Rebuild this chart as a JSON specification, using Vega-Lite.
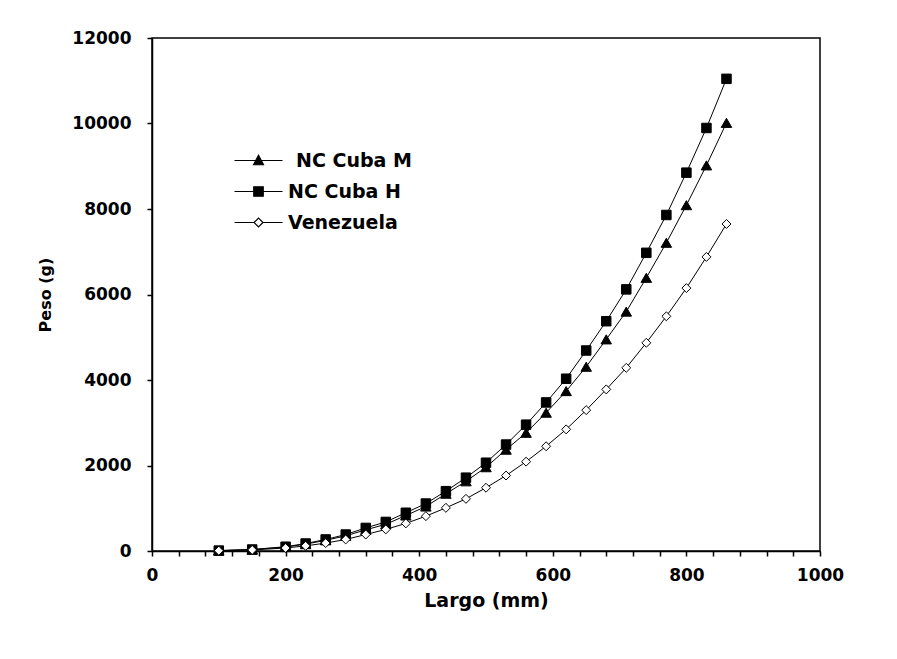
{
  "$schema": "https://vega.github.io/schema/vega-lite/v6.json",
  "width": 668,
  "height": 513,
  "autosize": {"type": "none"},
  "padding": {"left": 152, "top": 38, "right": 77, "bottom": 108},
  "background": "white",
  "config": {"view": {"stroke": "black", "strokeWidth": 1.5}, "font": "DejaVu Sans"},
  "data": {"values": [
    {"serie": "NC Cuba M", "largo": 100, "peso": 9},
    {"serie": "NC Cuba M", "largo": 150, "peso": 32},
    {"serie": "NC Cuba M", "largo": 200, "peso": 92},
    {"serie": "NC Cuba M", "largo": 230, "peso": 160},
    {"serie": "NC Cuba M", "largo": 260, "peso": 250},
    {"serie": "NC Cuba M", "largo": 290, "peso": 355},
    {"serie": "NC Cuba M", "largo": 320, "peso": 495},
    {"serie": "NC Cuba M", "largo": 350, "peso": 625},
    {"serie": "NC Cuba M", "largo": 380, "peso": 830},
    {"serie": "NC Cuba M", "largo": 410, "peso": 1040},
    {"serie": "NC Cuba M", "largo": 440, "peso": 1340},
    {"serie": "NC Cuba M", "largo": 470, "peso": 1630},
    {"serie": "NC Cuba M", "largo": 500, "peso": 1960},
    {"serie": "NC Cuba M", "largo": 530, "peso": 2370},
    {"serie": "NC Cuba M", "largo": 560, "peso": 2765},
    {"serie": "NC Cuba M", "largo": 590, "peso": 3235},
    {"serie": "NC Cuba M", "largo": 620, "peso": 3740},
    {"serie": "NC Cuba M", "largo": 650, "peso": 4310},
    {"serie": "NC Cuba M", "largo": 680, "peso": 4950},
    {"serie": "NC Cuba M", "largo": 710, "peso": 5600},
    {"serie": "NC Cuba M", "largo": 740, "peso": 6390},
    {"serie": "NC Cuba M", "largo": 770, "peso": 7210},
    {"serie": "NC Cuba M", "largo": 800, "peso": 8090},
    {"serie": "NC Cuba M", "largo": 830, "peso": 9020},
    {"serie": "NC Cuba M", "largo": 860, "peso": 10015},
    {"serie": "NC Cuba H", "largo": 100, "peso": 10},
    {"serie": "NC Cuba H", "largo": 150, "peso": 35},
    {"serie": "NC Cuba H", "largo": 200, "peso": 100},
    {"serie": "NC Cuba H", "largo": 230, "peso": 175},
    {"serie": "NC Cuba H", "largo": 260, "peso": 270},
    {"serie": "NC Cuba H", "largo": 290, "peso": 385},
    {"serie": "NC Cuba H", "largo": 320, "peso": 540},
    {"serie": "NC Cuba H", "largo": 350, "peso": 680},
    {"serie": "NC Cuba H", "largo": 380, "peso": 895},
    {"serie": "NC Cuba H", "largo": 410, "peso": 1110},
    {"serie": "NC Cuba H", "largo": 440, "peso": 1400},
    {"serie": "NC Cuba H", "largo": 470, "peso": 1715},
    {"serie": "NC Cuba H", "largo": 500, "peso": 2065},
    {"serie": "NC Cuba H", "largo": 530, "peso": 2490},
    {"serie": "NC Cuba H", "largo": 560, "peso": 2955},
    {"serie": "NC Cuba H", "largo": 590, "peso": 3475},
    {"serie": "NC Cuba H", "largo": 620, "peso": 4030},
    {"serie": "NC Cuba H", "largo": 650, "peso": 4690},
    {"serie": "NC Cuba H", "largo": 680, "peso": 5375},
    {"serie": "NC Cuba H", "largo": 710, "peso": 6120},
    {"serie": "NC Cuba H", "largo": 740, "peso": 6975},
    {"serie": "NC Cuba H", "largo": 770, "peso": 7860},
    {"serie": "NC Cuba H", "largo": 800, "peso": 8850},
    {"serie": "NC Cuba H", "largo": 830, "peso": 9895},
    {"serie": "NC Cuba H", "largo": 860, "peso": 11045},
    {"serie": "Venezuela", "largo": 100, "peso": 8},
    {"serie": "Venezuela", "largo": 150, "peso": 25},
    {"serie": "Venezuela", "largo": 200, "peso": 70},
    {"serie": "Venezuela", "largo": 230, "peso": 120},
    {"serie": "Venezuela", "largo": 260, "peso": 185},
    {"serie": "Venezuela", "largo": 290, "peso": 270},
    {"serie": "Venezuela", "largo": 320, "peso": 385},
    {"serie": "Venezuela", "largo": 350, "peso": 505},
    {"serie": "Venezuela", "largo": 380, "peso": 645},
    {"serie": "Venezuela", "largo": 410, "peso": 815},
    {"serie": "Venezuela", "largo": 440, "peso": 1010},
    {"serie": "Venezuela", "largo": 470, "peso": 1220},
    {"serie": "Venezuela", "largo": 500, "peso": 1480},
    {"serie": "Venezuela", "largo": 530, "peso": 1765},
    {"serie": "Venezuela", "largo": 560, "peso": 2090},
    {"serie": "Venezuela", "largo": 590, "peso": 2450},
    {"serie": "Venezuela", "largo": 620, "peso": 2845},
    {"serie": "Venezuela", "largo": 650, "peso": 3295},
    {"serie": "Venezuela", "largo": 680, "peso": 3780},
    {"serie": "Venezuela", "largo": 710, "peso": 4285},
    {"serie": "Venezuela", "largo": 740, "peso": 4870},
    {"serie": "Venezuela", "largo": 770, "peso": 5490},
    {"serie": "Venezuela", "largo": 800, "peso": 6150},
    {"serie": "Venezuela", "largo": 830, "peso": 6880},
    {"serie": "Venezuela", "largo": 860, "peso": 7650}
  ]},
  "encoding": {
    "x": {
      "field": "largo", "type": "quantitative",
      "scale": {"domain": [0, 1000], "nice": false, "zero": false},
      "axis": {
        "title": "Largo (mm)",
        "values": [0, 40, 80, 120, 160, 200, 240, 280, 320, 360, 400, 440, 480, 520, 560, 600, 640, 680, 720, 760, 800, 840, 880, 920, 960, 1000],
        "labelExpr": "datum.value % 200 === 0 ? datum.label : ''",
        "format": "d",
        "labelOverlap": false, "labelFlush": false, "grid": false,
        "domainColor": "black", "domainWidth": 1.5,
        "tickColor": "black", "tickSize": 5, "tickWidth": 1.5,
        "labelFont": "DejaVu Sans", "labelFontSize": 17, "labelFontWeight": "bold", "labelColor": "black", "labelPadding": 11,
        "titleFont": "DejaVu Sans", "titleFontSize": 19, "titleFontWeight": "bold", "titleColor": "black", "titlePadding": 8
      }
    },
    "y": {
      "field": "peso", "type": "quantitative",
      "scale": {"domain": [0, 12000], "nice": false},
      "axis": {
        "title": "Peso (g)",
        "values": [0, 2000, 4000, 6000, 8000, 10000, 12000],
        "format": "d",
        "labelOverlap": false, "labelFlush": false, "grid": false,
        "domainColor": "black", "domainWidth": 1.5,
        "tickColor": "black", "tickSize": 5, "tickWidth": 1.5,
        "labelFont": "DejaVu Sans", "labelFontSize": 17, "labelFontWeight": "bold", "labelColor": "black", "labelPadding": 16,
        "titleFont": "DejaVu Sans", "titleFontSize": 16, "titleFontWeight": "bold", "titleColor": "black", "titlePadding": 18
      }
    }
  },
  "layer": [
    {
      "mark": {"type": "line", "strokeWidth": 1},
      "encoding": {
        "color": {
          "field": "serie", "type": "nominal",
          "scale": {"domain": ["NC Cuba M", "NC Cuba H", "Venezuela"], "range": ["black", "black", "black"]},
          "legend": {
            "title": null,
            "orient": "none",
            "legendX": 97,
            "legendY": 113,
            "symbolSize": 100,
            "labelOffset": 20,
            "rowPadding": 11,
            "labelFont": "DejaVu Sans", "labelFontSize": 19, "labelFontWeight": "bold", "labelColor": "black",
            "encode": {
              "labels": {
                "update": {
                  "dx": {"signal": "datum.value === 'NC Cuba M' ? 8 : 0"}
                }
              },
              "symbols": {
                "update": {
                  "shape": {"signal": "datum.value === 'NC Cuba M' ? 'M-4.8,0H4.8M-1,0.85L0,-1.05L1,0.85Z' : datum.value === 'NC Cuba H' ? 'M-4.8,0H4.8M-0.95,-0.95H0.95V0.95H-0.95Z' : 'M-4.8,0H-0.9M0.9,0H4.8M-0.9,0L0,-0.9L0.9,0L0,0.9Z'"},
                  "fill": {"signal": "datum.value === 'Venezuela' ? 'white' : 'black'"},
                  "stroke": {"value": "black"},
                  "strokeWidth": {"value": 1.2},
                  "opacity": {"value": 1}
                }
              }
            }
          }
        }
      }
    },
    {
      "transform": [{"filter": "datum.serie === 'NC Cuba M'"}],
      "mark": {"type": "point", "shape": "triangle-up", "size": 110, "filled": true, "fill": "black", "opacity": 1, "stroke": "black", "strokeWidth": 1}
    },
    {
      "transform": [{"filter": "datum.serie === 'NC Cuba H'"}],
      "mark": {"type": "point", "shape": "square", "size": 90, "filled": true, "fill": "black", "opacity": 1, "stroke": "black", "strokeWidth": 1}
    },
    {
      "transform": [{"filter": "datum.serie === 'Venezuela'"}],
      "mark": {"type": "point", "shape": "diamond", "size": 80, "filled": true, "fill": "white", "opacity": 1, "stroke": "black", "strokeWidth": 1}
    }
  ]
}
